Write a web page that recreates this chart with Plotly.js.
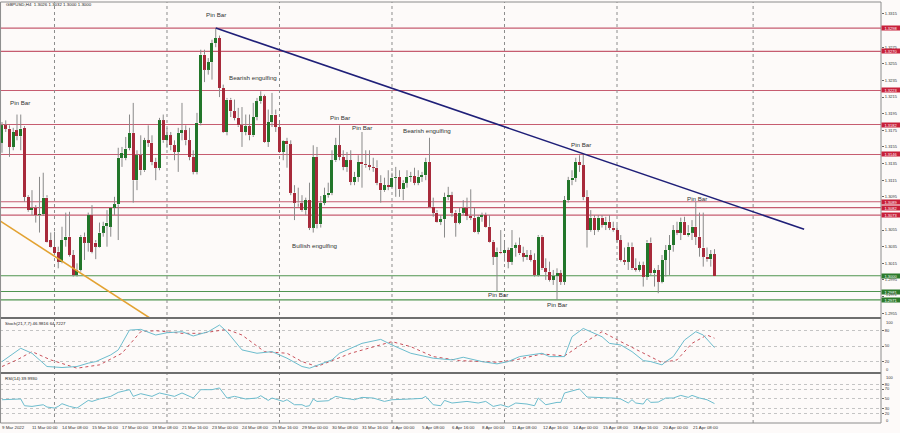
<!DOCTYPE html>
<html><head><meta charset="utf-8">
<script src="https://cdn.plot.ly/plotly-3.0.1.min.js"></script>
<style>html,body{margin:0;padding:0;background:#fdfaf9;}#chart{width:900px;height:433px;}</style>
</head><body><div id="chart"></div>
<script>
// ---------- DATA ----------
const symbolTitle = "GBPUSD,H4  1.3026 1.3032 1.3000 1.3000";
const stochTitle = "Stoch(21,7,7) 46.9816 64.7227";
const rsiTitle = "RSI(14) 39.9930";

const opens = [
1.3160,1.3181,1.3177,1.3155,1.3175,1.3168,1.3178,1.3095,1.3079,1.3082,
1.3073,1.3074,1.3094,1.3043,1.3035,1.3029,1.3017,1.3043,1.3047,1.3025,
1.3001,1.3007,1.3047,1.3040,1.3073,1.3040,1.3035,1.3052,1.3060,1.3059,
1.3082,1.3086,1.3142,1.3142,1.3154,1.3172,1.3115,1.3145,1.3127,1.3163,
1.3160,1.3137,1.3130,1.3187,1.3163,1.3169,1.3157,1.3149,1.3172,1.3175,
1.3163,1.3143,1.3125,1.3184,1.3266,1.3248,1.3257,1.3280,1.3286,1.3226,
1.3173,1.3212,1.3198,1.3190,1.3181,1.3173,1.3180,1.3169,1.3191,1.3210,
1.3216,1.3161,1.3185,1.3194,1.3179,1.3149,1.3162,1.3158,1.3100,1.3088,
1.3087,1.3079,1.3091,1.3058,1.3143,1.3062,1.3088,1.3097,1.3100,1.3139,
1.3157,1.3143,1.3131,1.3139,1.3113,1.3119,1.3137,1.3134,1.3133,1.3131,
1.3130,1.3112,1.3103,1.3109,1.3107,1.3118,1.3119,1.3104,1.3112,1.3119,
1.3120,1.3112,1.3119,1.3121,1.3137,1.3083,1.3076,1.3065,1.3068,1.3095,
1.3097,1.3076,1.3064,1.3076,1.3082,1.3072,1.3070,1.3053,1.3071,1.3073,
1.3059,1.3041,1.3023,1.3029,1.3027,1.3031,1.3017,1.3034,1.3037,1.3027,
1.3023,1.3025,1.3019,1.3001,1.3047,1.3009,1.3005,1.2995,1.3000,1.3003,
1.2993,1.3091,1.3115,1.3118,1.3137,1.3133,1.3095,1.3055,1.3070,1.3055,
1.3070,1.3061,1.3065,1.3058,1.3055,1.3043,1.3019,1.3017,1.3035,1.3009,
1.3007,1.3013,1.2999,1.3040,1.3003,1.3007,1.2993,1.3019,1.3031,1.3037,
1.3055,1.3052,1.3065,1.3049,1.3052,1.3059,1.3047,1.3034,1.3023,1.3020,
1.3026];
const highs = [
1.3185,1.3187,1.3181,1.3178,1.3194,1.3194,1.3180,1.3097,1.3103,1.3085,
1.3119,1.3124,1.3097,1.3052,1.3053,1.3035,1.3059,1.3076,1.3077,1.3031,
1.3015,1.3049,1.3052,1.3076,1.3085,1.3043,1.3064,1.3065,1.3079,1.3082,
1.3095,1.3154,1.3155,1.3167,1.3194,1.3208,1.3151,1.3169,1.3166,1.3181,
1.3169,1.3142,1.3190,1.3194,1.3178,1.3173,1.3163,1.3178,1.3208,1.3181,
1.3178,1.3151,1.3196,1.3272,1.3272,1.3262,1.3284,1.3298,1.3289,1.3230,
1.3214,1.3214,1.3212,1.3202,1.3203,1.3194,1.3194,1.3208,1.3214,1.3222,
1.3218,1.3200,1.3220,1.3200,1.3187,1.3163,1.3166,1.3163,1.3109,1.3106,
1.3097,1.3094,1.3112,1.3157,1.3155,1.3096,1.3106,1.3112,1.3151,1.3166,
1.3181,1.3151,1.3149,1.3151,1.3125,1.3145,1.3173,1.3151,1.3151,1.3142,
1.3139,1.3121,1.3118,1.3127,1.3124,1.3131,1.3127,1.3115,1.3127,1.3125,
1.3130,1.3127,1.3125,1.3142,1.3166,1.3094,1.3079,1.3073,1.3100,1.3107,
1.3101,1.3079,1.3082,1.3091,1.3094,1.3104,1.3082,1.3073,1.3076,1.3076,
1.3073,1.3043,1.3034,1.3055,1.3043,1.3034,1.3055,1.3040,1.3046,1.3035,
1.3031,1.3031,1.3027,1.3049,1.3049,1.3021,1.3017,1.3007,1.3009,1.3007,
1.3096,1.3119,1.3127,1.3142,1.3145,1.3146,1.3103,1.3079,1.3073,1.3073,
1.3073,1.3071,1.3073,1.3065,1.3061,1.3049,1.3034,1.3040,1.3040,1.3021,
1.3017,1.3017,1.3043,1.3046,1.3009,1.3013,1.3025,1.3037,1.3049,1.3061,
1.3065,1.3070,1.3071,1.3061,1.3067,1.3089,1.3076,1.3076,1.3034,1.3031,
1.3032];
const lows = [
1.3148,1.3173,1.3143,1.3151,1.3163,1.3151,1.3089,1.3077,1.3073,1.3064,
1.3052,1.3072,1.3040,1.3034,1.3025,1.3009,1.3015,1.3035,1.3023,1.2999,
1.2999,1.3005,1.3019,1.3029,1.3027,1.3020,1.3034,1.3047,1.3035,1.3047,
1.3073,1.3043,1.3131,1.3139,1.3151,1.3088,1.3103,1.3121,1.3125,1.3155,
1.3133,1.3115,1.3127,1.3160,1.3154,1.3151,1.3139,1.3125,1.3163,1.3157,
1.3139,1.3122,1.3122,1.3181,1.3233,1.3242,1.3236,1.3275,1.3215,1.3172,
1.3169,1.3191,1.3187,1.3179,1.3155,1.3169,1.3163,1.3167,1.3187,1.3207,
1.3160,1.3155,1.3179,1.3173,1.3148,1.3139,1.3130,1.3097,1.3067,1.3083,
1.3077,1.3073,1.3055,1.3052,1.3057,1.3058,1.3085,1.3094,1.3097,1.3137,
1.3139,1.3127,1.3125,1.3109,1.3109,1.3113,1.3106,1.3130,1.3127,1.3125,
1.3109,1.3088,1.3101,1.3103,1.3106,1.3095,1.3095,1.3091,1.3106,1.3113,
1.3109,1.3109,1.3113,1.3115,1.3082,1.3071,1.3064,1.3061,1.3046,1.3091,
1.3071,1.3047,1.3062,1.3073,1.3067,1.3067,1.3052,1.3050,1.3065,1.3058,
1.3040,1.3013,1.2981,1.3026,1.3017,1.3009,1.3013,1.3023,1.3025,1.3017,
1.3019,1.3017,1.2999,1.2999,1.3007,1.2995,1.2993,1.2989,1.2971,1.2989,
1.2989,1.3088,1.3109,1.3113,1.3125,1.3091,1.3034,1.3053,1.3049,1.3053,
1.3058,1.3055,1.3055,1.3053,1.3040,1.3017,1.3013,1.3007,1.3007,1.3005,
1.3005,1.2987,1.2995,1.3001,1.2987,1.2979,1.2991,1.2999,1.3001,1.3029,
1.3049,1.3043,1.3049,1.3047,1.3043,1.3037,1.3023,1.3011,1.3017,1.3011,
1.3000];
const closes = [
1.3181,1.3177,1.3155,1.3173,1.3168,1.3177,1.3095,1.3079,1.3082,1.3073,
1.3074,1.3094,1.3041,1.3035,1.3027,1.3017,1.3043,1.3047,1.3025,1.3001,
1.3007,1.3047,1.3040,1.3073,1.3029,1.3035,1.3052,1.3060,1.3064,1.3082,
1.3086,1.3142,1.3148,1.3153,1.3172,1.3115,1.3145,1.3127,1.3163,1.3160,
1.3137,1.3130,1.3187,1.3163,1.3169,1.3157,1.3149,1.3172,1.3175,1.3163,
1.3143,1.3125,1.3184,1.3266,1.3248,1.3257,1.3280,1.3286,1.3226,1.3173,
1.3212,1.3198,1.3190,1.3181,1.3173,1.3180,1.3169,1.3191,1.3210,1.3216,
1.3161,1.3185,1.3194,1.3179,1.3149,1.3162,1.3158,1.3100,1.3088,1.3087,
1.3079,1.3091,1.3058,1.3143,1.3062,1.3088,1.3097,1.3100,1.3139,1.3157,
1.3143,1.3131,1.3139,1.3113,1.3119,1.3137,1.3134,1.3133,1.3131,1.3130,
1.3112,1.3103,1.3109,1.3107,1.3118,1.3119,1.3104,1.3112,1.3119,1.3120,
1.3112,1.3119,1.3121,1.3137,1.3083,1.3076,1.3065,1.3068,1.3095,1.3097,
1.3076,1.3064,1.3076,1.3082,1.3072,1.3070,1.3053,1.3071,1.3073,1.3059,
1.3041,1.3023,1.3029,1.3027,1.3031,1.3017,1.3034,1.3037,1.3027,1.3023,
1.3025,1.3019,1.3001,1.3047,1.3009,1.3005,1.2995,1.3000,1.3003,1.2993,
1.3091,1.3115,1.3118,1.3137,1.3133,1.3095,1.3055,1.3070,1.3055,1.3070,
1.3061,1.3065,1.3058,1.3055,1.3043,1.3019,1.3017,1.3035,1.3009,1.3007,
1.3013,1.2999,1.3040,1.3003,1.3007,1.2993,1.3019,1.3031,1.3037,1.3055,
1.3052,1.3065,1.3049,1.3052,1.3059,1.3047,1.3034,1.3023,1.3020,1.3026,
1.3000];

// date labels: bar index and text
const dateLabelBars = [0,8,16,24,32,40,48,56,64,72,80,88,96,104,112,120,128,136,144,152,160,168,176,184];
const dateLabels = ["9 Mar 2022","11 Mar 00:00","14 Mar 08:00","15 Mar 16:00","17 Mar 00:00","18 Mar 08:00",
"21 Mar 16:00","23 Mar 00:00","24 Mar 08:00","25 Mar 16:00","29 Mar 00:00","30 Mar 08:00","31 Mar 16:00",
"4 Apr 00:00","5 Apr 08:00","6 Apr 16:00","8 Apr 00:00","11 Apr 08:00","12 Apr 16:00","14 Apr 00:00",
"15 Apr 08:00","18 Apr 16:00","20 Apr 00:00","21 Apr 08:00"];
const gridBars = [14,44,74,104,134,164,200.3];

// price scale labels (those hidden behind level boxes in the reference are left out)
const priceTicks = [1.2955,1.2975,1.2995,1.3015,1.3035,1.3055,1.3095,1.3115,1.3135,1.3155,1.3175,1.3195,1.3215,1.3235,1.3255,1.3275,1.3315];
const squeezedTick = 1.2975;   // drawn smaller, between the two green boxes
const resistanceLevels = [1.3298,1.3270,1.3223,1.3182,1.3146,1.3089,1.3082,1.3073];
const supportLevels = [1.3000,1.2981,1.2971];

const stochTicks = [20,50,80];
const rsiTicks = [20,30,50,70,80];
const edgeTicks = [100,0];

const trendBars = [57,213.9];
const trendPrices = [1.3298,1.3056];
const orangeBars = [-0.53,39.5];
const orangePrices = [1.3066,1.2949];

const patternTexts = ["Pin Bar","Bearish engulfing","Pin Bar","Pin Bar","Pin Bar","Bearish engulfing","Pin Bar","Bullish engulfing","Pin Bar","Pin Bar","Pin Bar"];
const patternBars = [57.2,66.9,4.9,90.1,96.1,113.3,154.3,83.6,185.3,132.3,148];
const patternPrices = [1.3314,1.3239,1.3209,1.3191,1.3179,1.3175,1.3158,1.3037,1.3093,1.2978,1.2965];

const stochMainX = [0,5,8,12,16,20,23,25,29,31,32,34,37,41,44,48,51,55,58,60,64,68,72,76,80,82,88,90,96,101,104,109,115,120,123,128,132,135,138,144,146,150,152,155,160,162,165,168,171,173,176,177,179,182,185,187,190];
const stochMainY = [20.6,45.7,36.3,11.3,9.4,11.3,17.6,20.6,33.2,42.6,55,80,81.4,70.7,75,77,68.9,77,89.5,77,42.6,36.3,39.4,27,11.3,8.1,23.8,36.3,55,62.5,51.9,36.3,27,23.8,28.8,20.6,16.3,20.6,30,36.3,30,30,67.5,83.1,67.5,55,51.9,39.4,22.5,20.6,14.4,20.6,30,61.2,77,70.7,47.0];
const stochSigX = [0,4,8,13,20,26,32,37,41,48,53,60,64,70,76,80,84,93,104,109,115,122,132,137,144,150,155,160,165,171,176,180,184,188,190];
const stochSigY = [11.3,23.8,39.4,23.8,8.1,14.4,36.3,77,78.9,73.9,73.9,81.4,70.7,39.4,36.3,20.6,11.3,36.3,58.2,48.8,30,22.5,19.4,23.8,35,31.3,55,77,58.2,36.3,18.8,23.8,55,70.7,64.7];
const rsiX = [0,2,5,6,8,11,12,14,15,16,18,20,23,24,26,29,31,34,35,37,40,42,46,48,51,53,56,58,60,62,65,68,69,71,72,75,76,78,80,81,82,83,84,87,89,91,94,96,99,102,104,109,112,113,115,117,118,120,124,127,129,131,133,135,137,140,142,143,145,148,149,150,153,154,156,160,163,165,167,168,169,171,172,173,175,177,179,181,183,184,186,188,190];
const rsiY = [48,48,49.5,35.6,34.2,37.7,32.9,30.8,34.2,39.8,34.2,30.8,46.6,44.5,49.5,54.9,63.2,68.7,54.9,60.5,54.9,61.9,54.9,61.9,51.5,68.7,68.7,72.3,51.5,54.9,49.5,51.5,56.3,46.6,51.5,44.5,48,37.7,37.7,34.2,35.6,49.5,44.5,45.9,54.9,51.5,48,52.8,51.5,44.5,48,49.5,50.8,54.9,37.7,35.6,46.6,41.2,44.5,41.2,44.5,34.2,37.7,32.9,41.2,39.1,35.6,51.5,37.7,42.5,42.5,61.9,68.7,70.2,53.5,52.8,51.5,49.5,41.2,48,41.2,39.1,50.1,42.5,43.2,51.5,51.5,56.9,52.8,56.9,51.5,48,40];

// ---------- BUILD ----------
const H = 433, W = 900;
const yp = px => (H - px) / H;
const plotRight = 881 / W;
const bg = '#fdfaf9';
const font = 'Liberation Sans, Arial, sans-serif';
const bull = '#22762a', bear = '#a82a3b', wickC = '#8a8a8a';

const idx = opens.map((_, i) => i);
const bodyBase = opens.map((o, i) => Math.min(o, closes[i]));
const bodyH = opens.map((o, i) => Math.max(Math.abs(closes[i] - o), 0.00008));
const bodyCol = opens.map((o, i) => closes[i] >= o ? bull : bear);

const wx = [], wy = [];
idx.forEach(i => {
  const top = Math.max(opens[i], closes[i]), bot = Math.min(opens[i], closes[i]);
  wx.push(i, i, null, i, i, null);
  wy.push(highs[i], top, null, bot, lows[i], null);
});

const traces = [
  {type:'bar', x: idx, y: bodyH, base: bodyBase, width: 0.8,
   marker:{color: bodyCol, line:{width:0}}, xaxis:'x', yaxis:'y', hoverinfo:'skip'},
  {type:'scatter', mode:'lines', x: wx, y: wy, line:{color: wickC, width:1},
   xaxis:'x', yaxis:'y', hoverinfo:'skip'},
  {type:'scatter', mode:'lines', x: trendBars, y: trendPrices, line:{color:'#1f1f78', width:1.6},
   xaxis:'x', yaxis:'y'},
  {type:'scatter', mode:'lines', x: orangeBars, y: orangePrices, line:{color:'#e3a232', width:1.6},
   xaxis:'x', yaxis:'y'},
  {type:'scatter', mode:'lines', x: stochSigX, y: stochSigY, line:{color:'#c8505a', width:1, dash:'dot'},
   xaxis:'x', yaxis:'y2'},
  {type:'scatter', mode:'lines', x: stochMainX, y: stochMainY, line:{color:'#6cbccd', width:1},
   xaxis:'x', yaxis:'y2'},
  {type:'scatter', mode:'lines', x: rsiX, y: rsiY, line:{color:'#6cbccd', width:1},
   xaxis:'x', yaxis:'y3'}
];

const shapes = [];
resistanceLevels.forEach(v => shapes.push({type:'line', layer:'below', xref:'paper', x0:0, x1:plotRight,
  yref:'y', y0:v, y1:v, line:{color:'#c65c70', width:1.1}}));
supportLevels.forEach(v => shapes.push({type:'line', layer:'below', xref:'paper', x0:0, x1:plotRight,
  yref:'y', y0:v, y1:v, line:{color:'#4f944f', width:1.1}}));
gridBars.forEach(b => shapes.push({type:'line', layer:'below', xref:'x', x0:b, x1:b,
  yref:'paper', y0:yp(423), y1:yp(2), line:{color:'#8c8c8c', width:1, dash:'dot'}}));
// panel separators and frame
shapes.push({type:'line', xref:'paper', x0:0, x1:plotRight, yref:'paper', y0:yp(318), y1:yp(318), line:{color:'#6e6e6e', width:2}});
shapes.push({type:'line', xref:'paper', x0:0, x1:plotRight, yref:'paper', y0:yp(373), y1:yp(373), line:{color:'#6e6e6e', width:2}});
shapes.push({type:'rect', xref:'paper', x0:0.0006, x1:plotRight, yref:'paper', y0:yp(423), y1:yp(2), line:{color:'#8c8c8c', width:1}});

const annotations = [];
patternTexts.forEach((t, k) => annotations.push({x: patternBars[k], y: patternPrices[k], xref:'x', yref:'y',
  text: t, showarrow:false, font:{family:font, size:6.2, color:'#333'}}));
dateLabelBars.forEach((b, k) => annotations.push({x: b - 0.4, y: yp(427.5), xref:'x', yref:'paper', xanchor:'left',
  yanchor:'middle', text: dateLabels[k], showarrow:false, font:{family:font, size:4.4, color:'#333'}}));
resistanceLevels.forEach(v => annotations.push({x: plotRight, y: v, xref:'paper', yref:'y', xanchor:'left',
  text: v.toFixed(4), showarrow:false, bgcolor:'#c8203a', width:18, height:4, borderpad:0,
  font:{family:font, size:4, color:'#ffffff'}}));
supportLevels.forEach(v => annotations.push({x: plotRight, y: v, xref:'paper', yref:'y', xanchor:'left',
  text: v.toFixed(4), showarrow:false, bgcolor:'#2c7a2c', width:18, height:4, borderpad:0,
  font:{family:font, size:4, color:'#ffffff'}}));
// the price label squeezed between the two lower green boxes
annotations.push({x: 884/W, y: yp(295), xref:'paper', yref:'paper', xanchor:'left', yanchor:'middle',
  text: squeezedTick.toFixed(4), showarrow:false, font:{family:font, size:3.4, color:'#333'}});
// edge labels of the indicator scales, kept inside their panels as in the reference
const edgePos = {stoch:[322, 369.5], rsi:[377.5, 420]};
[edgePos.stoch, edgePos.rsi].forEach(pos => {
  edgeTicks.forEach((v, k) => annotations.push({x: 884/W, y: yp(pos[k]), xref:'paper', yref:'paper',
    xanchor:'left', yanchor:'middle', text: String(v), showarrow:false,
    font:{family:font, size:4, color:'#333'}}));
});
annotations.push({x: 4/W, y: yp(5), xref:'paper', yref:'paper', xanchor:'left', yanchor:'middle',
  text: symbolTitle, showarrow:false, font:{family:font, size:4.4, color:'#222'}});
annotations.push({x: 3/W, y: yp(323), xref:'paper', yref:'paper', xanchor:'left', yanchor:'middle',
  text: stochTitle, showarrow:false, font:{family:font, size:4.4, color:'#222'}});
annotations.push({x: 3/W, y: yp(378), xref:'paper', yref:'paper', xanchor:'left', yanchor:'middle',
  text: rsiTitle, showarrow:false, font:{family:font, size:4.4, color:'#222'}});

const axisCommon = {side:'right', anchor:'x', ticks:'outside', ticklen:2, tickcolor:'#666',
  tickfont:{family:font, size:4, color:'#333'}, zeroline:false, fixedrange:true};

const layout = {
  width: W, height: H, margin:{l:0, r:0, t:0, b:0},
  paper_bgcolor: bg, plot_bgcolor: bg, showlegend:false, bargap:0,
  xaxis:{domain:[0, plotRight], range:[-0.53, 234.4], showgrid:false, zeroline:false,
    showticklabels:false, ticks:'', showline:false, anchor:'y3'},
  yaxis:Object.assign({}, axisCommon, {domain:[yp(317), yp(2)], range:[1.29504, 1.33294],
    tickvals: priceTicks, ticktext: priceTicks.map(v => v === squeezedTick ? '' : v.toFixed(4)), showgrid:false}),
  yaxis2:Object.assign({}, axisCommon, {domain:[yp(372.5), yp(319.5)], range:[0, 100],
    tickvals: stochTicks, showgrid:true, gridcolor:'#c4c4c4', griddash:'dot', gridwidth:1}),
  yaxis3:Object.assign({}, axisCommon, {domain:[yp(423), yp(374.5)], range:[0, 100],
    tickvals: rsiTicks, showgrid:true, gridcolor:'#c4c4c4', griddash:'dot', gridwidth:1}),
  shapes: shapes, annotations: annotations
};

Plotly.newPlot('chart', traces, layout, {staticPlot:true, displayModeBar:false});
</script>
</body></html>
